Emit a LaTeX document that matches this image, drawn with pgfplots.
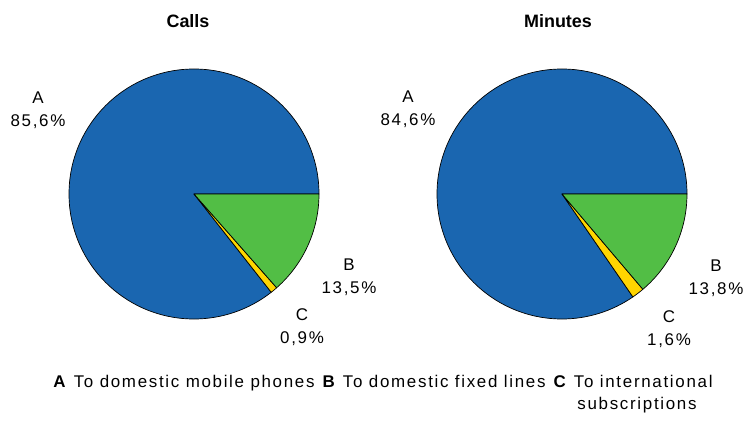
\documentclass[border=0pt]{standalone}
\usepackage{fontspec}
\setmainfont{Liberation Sans}
\newfontfamily\lsfont[LetterSpace=10]{Liberation Sans}
\usepackage{pgfplots}
\usepackage{pgfplotstable}
\pgfplotsset{compat=1.18}
\definecolor{cA}{HTML}{1A66B0}
\definecolor{cB}{HTML}{52BE45}
\definecolor{cC}{HTML}{FFD500}

% slices counterclockwise from 3 o'clock
\pgfplotstableread{
label value color
A 85.6 cA
C 0.9 cC
B 13.5 cB
}\calls
\pgfplotstableread{
label value color
A 84.6 cA
C 1.6 cC
B 13.8 cB
}\minutes

\newcommand\drawpie[3]{%
  \def\cum{0}%
  \pgfplotsforeachungrouped \i in {0,1,2}{%
    \pgfplotstablegetelem{\i}{value}\of#1\let\val\pgfplotsretval
    \pgfplotstablegetelem{\i}{color}\of#1\let\col\pgfplotsretval
    \pgfmathsetmacro\aStart{\cum*3.6}%
    \pgfmathsetmacro\aEnd{(\cum+\val)*3.6}%
    \edef\temp{\noexpand\filldraw[fill=\col,draw=black,line width=0.7pt,line join=round] (axis cs:#2,#3) -- +(\aStart:125bp) arc[start angle=\aStart,end angle=\aEnd,radius=125bp] -- cycle;}%
    \temp
    \pgfmathsetmacro\cum{\cum+\val}%
  }}

\begin{document}
\begin{tikzpicture}
\begin{axis}[
  scale only axis, width=745bp, height=426bp,
  xmin=0, xmax=745, ymin=0, ymax=426, y dir=reverse,
  hide axis, clip=false,
]
\drawpie{\calls}{194}{194}
\drawpie{\minutes}{562}{194}
\node[font=\fontsize{18}{18}\selectfont\bfseries] at (axis cs:188,21) {Calls};
\node[font=\fontsize{18}{18}\selectfont\bfseries] at (axis cs:558,21) {Minutes};
\tikzset{lab/.style={font=\lsfont\fontsize{17}{23}\selectfont, align=center, inner sep=0pt}}
\node[lab] at (axis cs:38,110) {A\\85,6\%};
\node[lab] at (axis cs:349,277) {B\\13,5\%};
\node[lab] at (axis cs:302,327) {C\\0,9\%};
\node[lab] at (axis cs:408,109) {A\\84,6\%};
\node[lab] at (axis cs:716,278) {B\\13,8\%};
\node[lab] at (axis cs:669,329) {C\\1,6\%};
\node[font=\lsfont\fontsize{17}{15}\selectfont, inner sep=0pt] at (axis cs:383,383)
  {\textbf{A} To domestic mobile phones \textbf{B} To domestic fixed lines \textbf{C} To international};
\node[font=\lsfont\fontsize{17}{15}\selectfont, inner sep=0pt] at (axis cs:637,405) {subscriptions};
\end{axis}
\pgfresetboundingbox
\path (current axis.south west) rectangle (current axis.north east);
\end{tikzpicture}
\end{document}
